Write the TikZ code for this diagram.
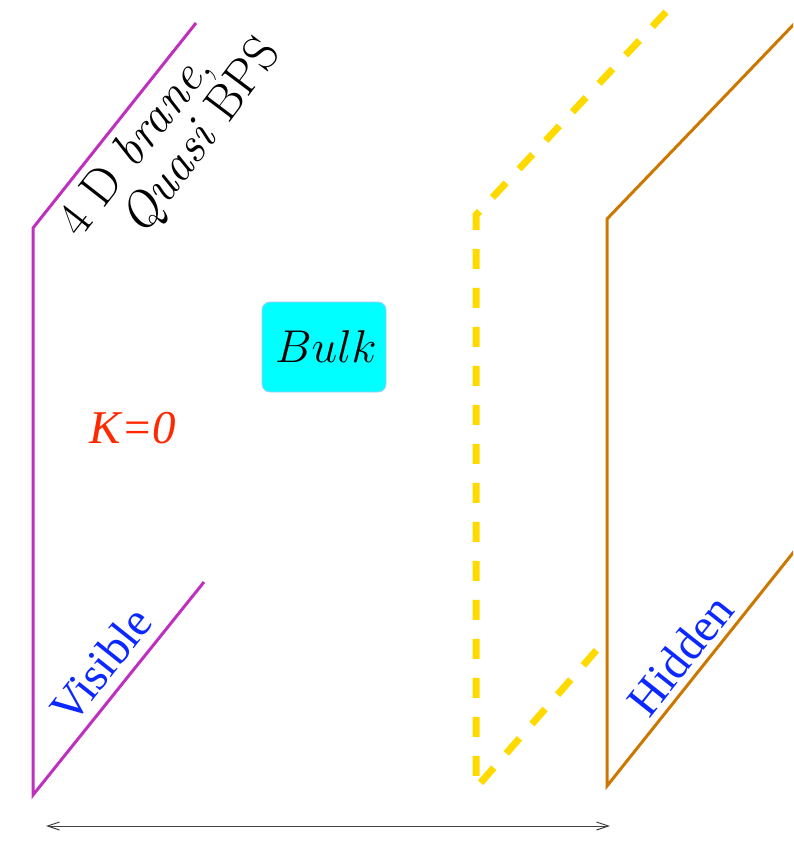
\documentclass[tikz,border=0pt]{standalone}
\usepackage{fix-cm}
\usepackage{fontspec}
\newfontfamily\tnr{Liberation Serif}
\usetikzlibrary{arrows.meta}
\definecolor{vmag}{RGB}{191,48,191}
\definecolor{horange}{RGB}{204,120,0}
\definecolor{dyellow}{RGB}{255,218,0}
\definecolor{lblue}{RGB}{10,40,255}
\definecolor{kred}{RGB}{255,40,0}
\definecolor{bulkcyan}{RGB}{0,255,255}
\definecolor{bulkedge}{RGB}{170,200,255}
\tikzset{
  brane/.style={line width=3pt, line join=miter},
  dashbrane/.style={line width=7pt, dyellow, dash pattern=on 20pt off 19pt},
  bigfont/.style={font=\fontsize{46}{55}\selectfont},
  topfont/.style={font=\fontsize{50}{58}\selectfont},
  tnrfont/.style={font=\tnr\fontsize{47}{55}\selectfont},
  lbl/.style={tnrfont, text=lblue, inner sep=0pt},
  dimarrow/.style={{Straight Barb[length=12pt,width=8pt]}-{Straight Barb[length=12pt,width=8pt]}, line width=1pt, black!75}
}
\begin{document}
\begin{tikzpicture}[x=1pt,y=-1pt]
\useasboundingbox (0,0) rectangle (793,842);
\begin{scope}
  \clip (0,0) rectangle (793,842);
  % visible brane
  \draw[brane, vmag] (196,23) -- (33,228) -- (33,795) -- (204,582);
  % dashed middle brane
  \draw[dashbrane] (666,12) -- (476,215) -- (476,788) -- (601,645);
  % hidden brane
  \draw[brane, horange] (820,-3) -- (607,219) -- (607,786) -- (820,519);
\end{scope}
% labels
\node[topfont, rotate=52, inner sep=0pt, anchor=base west] (t1) at (80,240) {4 D \textit{brane},};
\node[topfont, rotate=53, inner sep=0pt, anchor=base west] (t2) at (143,238) {\textit{Quasi} BPS};
\node[bigfont, fill=bulkcyan, draw=bulkedge, line width=0.8pt, rounded corners=8pt,
      minimum width=124pt, minimum height=90pt, inner sep=0pt] (bulk) at (324,347) {\hspace{4pt}$Bulk$};
\node[tnrfont, text=kred, inner sep=0pt] (k) at (133,428) {\itshape K=0};
\node[lbl, rotate=51.5] (vis) at (101,665) {Visible};
\node[lbl, rotate=51.5] (hid) at (680,655) {Hidden};
% distance arrow
\coordinate (al) at (46,826);
\coordinate (ar) at (610,826);
\draw[dimarrow] (al) -- (ar);
\end{tikzpicture}
\end{document}
